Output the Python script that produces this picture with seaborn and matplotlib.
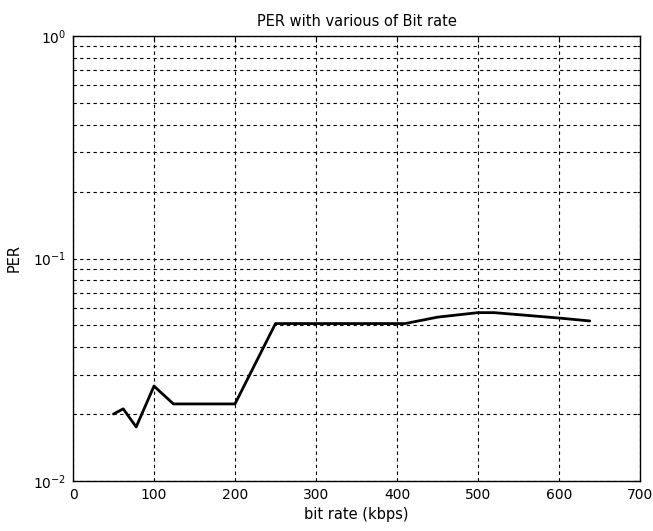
import matplotlib
matplotlib.use("Agg")
import matplotlib.pyplot as plt
import seaborn as sns
import pandas as pd
import numpy as np
from matplotlib.ticker import LogLocator, NullFormatter, FixedLocator

bit_rate = [50, 62, 78, 100, 124, 200, 250, 410, 450, 500, 520, 600, 638]
per = [0.0200, 0.0211, 0.0175, 0.0267, 0.0222, 0.0222, 0.0510, 0.0510, 0.0545, 0.0571, 0.0571, 0.0540, 0.0524]
x_ticks = [0, 100, 200, 300, 400, 500, 600, 700]

sns.set_theme(style="white")
plt.rcParams['font.family'] = ['DejaVu Sans']
plt.rcParams['text.color'] = 'black'
plt.rcParams['axes.labelcolor'] = 'black'

df = pd.DataFrame({"bit rate": bit_rate, "PER": per})

fig = plt.figure(figsize=(6.53, 5.31), dpi=100)
ax = fig.add_axes([73/653, 1-481/531, (640-73)/653, (481-36)/531])
sns.lineplot(data=df, x="bit rate", y="PER", ax=ax, color="black", linewidth=2, sort=False)
ax.set_yscale("log")
ax.set_ylim(1e-2, 1)
ax.set_xlim(0, 700)
ax.xaxis.set_major_locator(FixedLocator(x_ticks))
ax.yaxis.set_major_locator(LogLocator(base=10, numticks=10))
ax.yaxis.set_minor_locator(LogLocator(base=10, subs=np.arange(2, 10), numticks=20))
ax.yaxis.set_minor_formatter(NullFormatter())
ax.grid(True, which="both", axis="both", color="black", linestyle=(0, (3, 3)), linewidth=0.8)
ax.tick_params(axis="both", which="both", direction="in", labelsize=10, colors="black",
               length=4, width=0.8, top=True, right=True, pad=5)
ax.tick_params(axis="y", which="minor", length=2)
for s in ax.spines.values():
    s.set_color("black")
    s.set_linewidth(1)
ax.set_title("PER with various of Bit rate", fontsize=10.5, pad=7, color="black")
ax.set_xlabel("bit rate (kbps)", fontsize=10.5, labelpad=4)
ax.set_ylabel("PER", fontsize=10.5, labelpad=8)
ax.set_facecolor("white")
fig.patch.set_facecolor("white")
fig.savefig("out.png", dpi=100)
